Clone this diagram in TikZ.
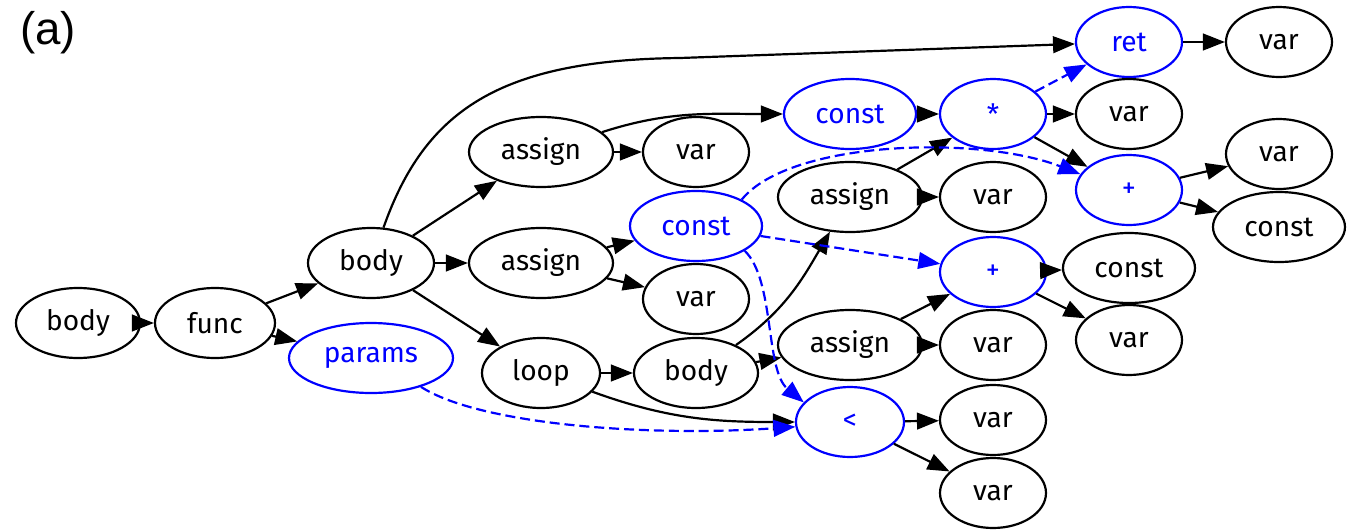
\documentclass[tikz,border=0pt]{standalone}
\usepackage{fontspec}
\setmainfont{Fira Sans}
\newfontfamily\tagfont{Liberation Sans}
\usetikzlibrary{arrows.meta, shapes.geometric}
\definecolor{astBlue}{HTML}{0000FF}

\begin{document}
\begin{tikzpicture}[
    ast/.style={ellipse, draw=black, line width=1.25pt, minimum width=2.12cm,
                minimum height=1.4cm, inner sep=0pt,
                font=\fontsize{16}{19}\selectfont},
    hot/.style={ast, draw=astBlue, text=astBlue},
    cst/.style={minimum width=2.64cm},
    asg/.style={minimum width=2.88cm},
    link/.style={-{Triangle[length=12.5pt, width=9.5pt]}, line width=1.25pt},
    hotlink/.style={link, astBlue, dash pattern=on 5.7pt off 2.8pt},
  ]
    \useasboundingbox (0,0) rectangle (27.12,-10.62);
    \node[font=\tagfont\fontsize{26}{30}\selectfont] (tag) at (0.96,-0.66) {(a)};

    % column by column, left to right
    \node[ast, minimum width=2.48cm] (bodyA) at (1.56,-6.46) {body};
    \node[ast, minimum width=2.4cm] (func) at (4.30,-6.46) {func};
    \node[ast, minimum width=2.52cm] (bodyB) at (7.42,-5.26) {body};
    \node[hot, minimum width=3.28cm] (params) at (7.42,-7.16) {params};

    \node[ast, asg] (asgA) at (10.82,-3.04) {assign};
    \node[ast, asg] (asgB) at (10.82,-5.26) {assign};
    \node[ast, minimum width=2.36cm] (loop) at (10.82,-7.46) {loop};

    \node[ast] (varA) at (13.92,-3.04) {var};
    \node[hot, cst] (constB) at (13.92,-4.52) {const};
    \node[ast] (varB) at (13.92,-5.98) {var};
    \node[ast, minimum width=2.48cm] (bodyC) at (13.92,-7.46) {body};

    \node[hot, cst] (constC) at (17.00,-2.28) {const};
    \node[ast, asg] (asgC) at (17.00,-3.94) {assign};
    \node[ast, asg] (asgD) at (17.00,-6.90) {assign};
    \node[hot, minimum width=2.16cm] (lt) at (17.00,-8.44) {<};

    \node[hot] (star) at (19.86,-2.28) {*};
    \node[ast] (varC) at (19.86,-3.94) {var};
    \node[hot] (plusB) at (19.86,-5.44) {+};
    \node[ast] (varD) at (19.86,-6.90) {var};
    \node[ast] (varE) at (19.86,-8.40) {var};
    \node[ast] (varF) at (19.86,-9.86) {var};

    \node[hot] (ret) at (22.58,-0.84) {ret};
    \node[ast] (varG) at (22.58,-2.28) {var};
    \node[hot] (plusA) at (22.58,-3.80) {+};
    \node[ast, cst] (constD) at (22.58,-5.36) {const};
    \node[ast] (varH) at (22.58,-6.80) {var};

    \node[ast] (varI) at (25.58,-0.84) {var};
    \node[ast] (varJ) at (25.58,-3.08) {var};
    \node[ast, cst] (constE) at (25.58,-4.54) {const};

    % tree edges
    \draw[link] (bodyA) -- (func);
    \draw[link] (func) -- (bodyB);
    \draw[link] (func) -- (params);
    \draw[link] (bodyB) .. controls (8.5,-2.2) and (10,-1.2) .. (13.6,-1.16) -- (ret);
    \draw[link] (bodyB) -- (asgA);
    \draw[link] (bodyB) -- (asgB);
    \draw[link] (bodyB) -- (loop);
    \draw[link] (asgA) -- (varA);
    \draw[link] (asgA) to[out=18, in=180] (constC);
    \draw[link] (asgB) -- (constB);
    \draw[link] (asgB) -- (varB);
    \draw[link] (loop) -- (bodyC);
    \draw[link] (loop) to[out=-20, in=180] (lt);
    \draw[link] (bodyC) to[out=35, in=-120] (asgC);
    \draw[link] (bodyC) -- (asgD);
    \draw[link] (constC) -- (star);
    \draw[link] (asgC) -- (star);
    \draw[link] (asgC) -- (varC);
    \draw[link] (asgD) -- (plusB);
    \draw[link] (asgD) -- (varD);
    \draw[link] (lt) -- (varE);
    \draw[link] (lt) -- (varF);
    \draw[link] (star) -- (varG);
    \draw[link] (star) -- (plusA);
    \draw[link] (plusB) -- (constD);
    \draw[link] (plusB) -- (varH);
    \draw[link] (ret) -- (varI);
    \draw[link] (plusA) -- (varJ);
    \draw[link] (plusA) -- (constE);

    % data flow
    \draw[hotlink] (params.-30) .. controls (9.6,-8.5) and (13,-8.74) .. (lt.185);
    \draw[hotlink] (constB.-27) .. controls (15.5,-5.6) and (15.3,-7.4) .. (lt.157);
    \draw[hotlink] (constB) -- (plusB);
    \draw[hotlink] (constB.30) .. controls (15.8,-2.8) and (19.6,-2.7) .. (plusA.162);
    \draw[hotlink] (star) -- (ret);
  \end{tikzpicture}
\end{document}
